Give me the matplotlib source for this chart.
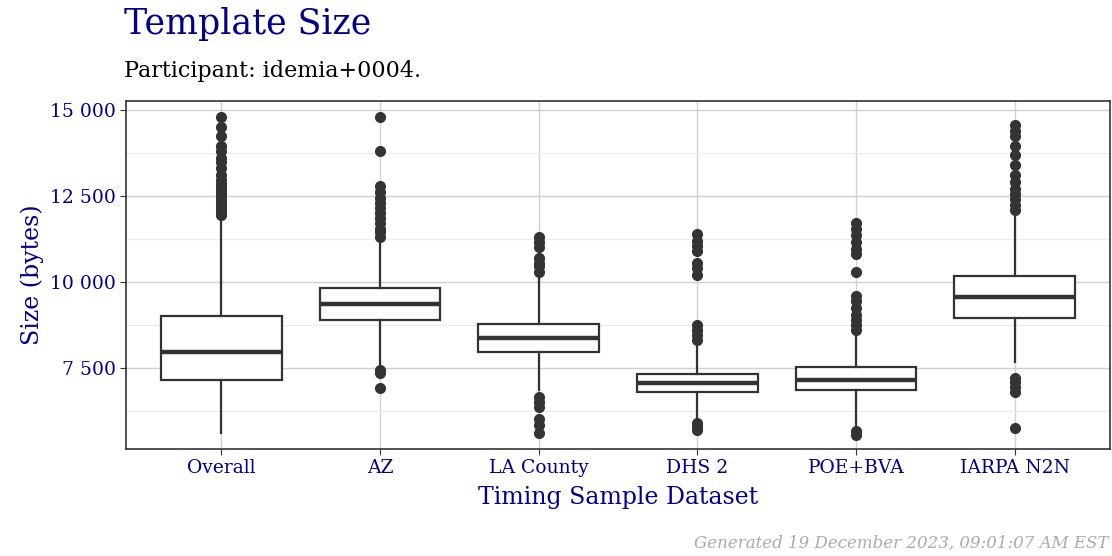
import matplotlib
matplotlib.use("Agg")
import matplotlib.pyplot as plt
from matplotlib.ticker import FuncFormatter, MultipleLocator

categories = ["Overall", "AZ", "LA County", "DHS 2", "POE+BVA", "IARPA N2N"]
whislo = [5610, 7590, 6860, 5990, 5840, 7670]
q1 = [7150, 8895, 7965, 6800, 6860, 8955]
med = [7965, 9360, 8370, 7065, 7150, 9565]
q3 = [9010, 9825, 8780, 7325, 7530, 10175]
whishi = [11900, 11250, 10200, 8170, 8900, 12030]
fliers = [
    [11950, 12050, 12150, 12250, 12350, 12450, 12550, 12650, 12750, 12850, 12950, 13100, 13300, 13500, 13600, 13800, 13950, 14250, 14500, 14800],
    [6900, 7350, 7450, 11300, 11450, 11550, 11700, 11850, 12000, 12150, 12300, 12450, 12600, 12800, 13800, 14800],
    [5600, 5850, 6000, 6350, 6500, 6650, 10300, 10450, 10550, 10700, 11000, 11150, 11300],
    [5700, 5800, 5900, 8300, 8450, 8600, 8750, 10200, 10400, 10550, 10900, 11050, 11200, 11400],
    [5550, 5650, 8600, 8750, 8900, 9050, 9250, 9450, 9600, 10300, 10800, 10950, 11150, 11350, 11550, 11700],
    [5750, 6800, 6950, 7100, 7200, 12100, 12250, 12400, 12550, 12700, 12900, 13100, 13400, 13700, 13950, 14250, 14400, 14550],
]

plt.rcParams['font.family'] = ['DejaVu Serif']
navy = "#00008B"
dark = "#333333"

fig = plt.figure(figsize=(11.12, 5.56), dpi=100)
ax = fig.add_axes([126/1112, 1 - 449/556, (1110-126)/1112, (449-101)/556])

stats = [dict(label=c, whislo=a, q1=b, med=m, q3=d, whishi=e, fliers=f)
         for c, a, b, m, d, e, f in zip(categories, whislo, q1, med, q3, whishi, fliers)]
ax.bxp(stats, positions=range(1, 7), widths=0.76, patch_artist=True,
       boxprops=dict(facecolor="white", edgecolor=dark, linewidth=1.6),
       medianprops=dict(color=dark, linewidth=3.2),
       whiskerprops=dict(color=dark, linewidth=1.6),
       capprops=dict(linewidth=0),
       flierprops=dict(marker="o", markerfacecolor=dark, markeredgecolor=dark, markersize=7))

ax.set_xlim(0.4, 6.6)
ax.set_ylim(5140, 15260)
ax.yaxis.set_major_locator(MultipleLocator(2500))
ax.yaxis.set_minor_locator(MultipleLocator(1250))
ax.yaxis.set_major_formatter(FuncFormatter(lambda v, p: f"{int(v):,}".replace(",", " ")))
ax.grid(True, which="major", color="#d0d0d0", linewidth=1)
ax.grid(True, which="minor", axis="y", color="#ebebeb", linewidth=0.8)
ax.set_axisbelow(True)
for s in ax.spines.values():
    s.set_color(dark); s.set_linewidth(1.2)
ax.tick_params(axis="both", colors=dark, labelcolor=navy, labelsize=13.5, length=4)
ax.tick_params(axis="y", which="minor", length=0)
ax.set_xticks(range(1, 7))
ax.set_xticklabels(categories)
ax.set_xlabel("Timing Sample Dataset", color=navy, fontsize=17, labelpad=6)
ax.set_ylabel("Size (bytes)", color=navy, fontsize=17, labelpad=4)

fig.text(124/1112, 1 - 24/556, "Template Size", color=navy, fontsize=25, va="center")
fig.text(124/1112, 1 - 71/556, "Participant: idemia+0004.", color="black", fontsize=16, va="center")
fig.text(1112/1112 - 0.003, 1 - 543/556, "Generated 19 December 2023, 09:01:07 AM EST",
         color="#aaaaaa", fontsize=12, style="italic", ha="right", va="center")

fig.savefig("out.png", dpi=100)
